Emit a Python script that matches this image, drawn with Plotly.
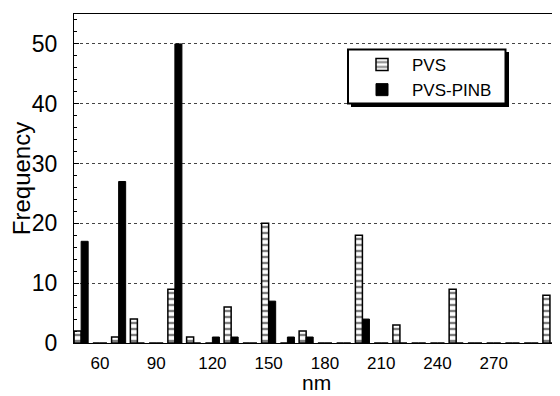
import plotly.graph_objects as go

# Size bins (nm) and counts
bins_nm = [50, 60, 70, 80, 90, 100, 110, 120, 130, 140, 150, 160, 170, 180, 190, 200, 210, 220, 230, 240, 250, 260, 270, 280, 290, 300]
pvs_counts = [2, 0, 1, 4, 0, 9, 1, 0, 6, 0, 20, 0, 2, 0, 0, 18, 0, 3, 0, 0, 9, 0, 0, 0, 0, 8]
pvs_pinb_counts = [17, 0, 27, 0, 0, 50, 0, 1, 1, 0, 7, 1, 1, 0, 0, 4, 0, 0, 0, 0, 0, 0, 0, 0, 0, 0]

x_tickvals = [60, 90, 120, 150, 180, 210, 240, 270]
y_tickvals = [0, 10, 20, 30, 40, 50]

FONT = "Liberation Sans, Arial, Helvetica, sans-serif"

fig = go.Figure()
fig.add_trace(go.Bar(
    x=bins_nm, y=pvs_counts, name="PVS",
    marker=dict(color="white", line=dict(color="black", width=1.5),
                pattern=dict(shape="-", fgcolor="black", bgcolor="white", size=6, solidity=0.4)),
))
fig.add_trace(go.Bar(
    x=bins_nm, y=pvs_pinb_counts, name="PVS-PINB",
    marker=dict(color="black", line=dict(color="black", width=1)),
))

# The page body has an 8px margin, so the figure starts at (8, 8) of the window.
OFF = 8
W, H = 560 - OFF, 396 - OFF
L, R, T, B = 74 - OFF, 2, 14 - OFF, 53
pw, ph = W - L - R, H - T - B

def px_x(p):  # window pixel -> paper x
    return (p - OFF - L) / pw

def px_y(p):  # window pixel -> paper y
    return (H + OFF - B - p) / ph

# legend box with drop shadow
fig.add_shape(type="rect", xref="paper", yref="paper",
              x0=px_x(351), x1=px_x(509), y0=px_y(107), y1=px_y(52),
              fillcolor="black", line=dict(width=0), layer="above")
fig.add_shape(type="rect", xref="paper", yref="paper",
              x0=px_x(348), x1=px_x(505.5), y0=px_y(103.5), y1=px_y(49.5),
              fillcolor="white", line=dict(color="black", width=2), layer="above")

# x-axis title placed low, as in the reference
fig.add_annotation(text="nm", xref="paper", yref="paper", x=0.5, y=px_y(396),
                   xanchor="center", yanchor="bottom", showarrow=False,
                   font=dict(size=21, family=FONT, color="black"))

fig.update_layout(
    width=W, height=H,
    margin=dict(l=L, r=R, t=T, b=B, autoexpand=False),
    paper_bgcolor="white", plot_bgcolor="white",
    barmode="group", bargap=0.25, bargroupgap=0,
    font=dict(family=FONT, color="black"),
    showlegend=True,
    legend=dict(x=px_x(352), y=px_y(47), xanchor="left", yanchor="top",
                bgcolor="rgba(0,0,0,0)", borderwidth=0,
                font=dict(size=17, family=FONT), itemwidth=50,
                tracegroupgap=0),
    xaxis=dict(range=[46.2, 304.3], tickvals=x_tickvals, ticks="",
               showgrid=False, zeroline=False, automargin=False,
               showline=True, linecolor="black", linewidth=1, mirror=True,
               tickfont=dict(size=17), ticklabelstandoff=5),
    yaxis=dict(range=[0, 55], tickvals=y_tickvals, ticks="inside", ticklen=5,
               tickcolor="black", zeroline=False, automargin=False,
               showgrid=True, gridcolor="#444", griddash="dot", gridwidth=1,
               showline=True, linecolor="black", linewidth=1, mirror="ticks",
               minor=dict(dtick=2, ticks="inside", ticklen=3, tickcolor="black", showgrid=False),
               tickfont=dict(size=23), ticklabelstandoff=11,
               title=dict(text="Frequency", font=dict(size=24), standoff=0)),
)

fig.write_html("out.html")
